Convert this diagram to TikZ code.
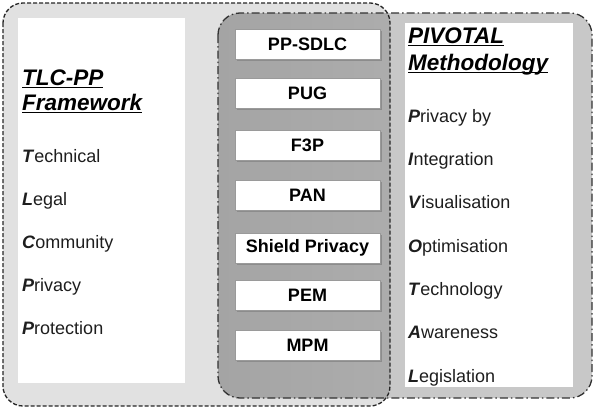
\documentclass[tikz,border=0pt]{standalone}
\usepackage{fontspec}
\setmainfont{Liberation Sans}
\definecolor{lightfill}{HTML}{E1E1E1}
\definecolor{midfill}{HTML}{C8C8C8}
\definecolor{ovlA}{HTML}{A4A4A4}
\definecolor{ovlB}{HTML}{B6B6B6}
\definecolor{txt}{HTML}{1E1E1E}
\definecolor{boxline}{HTML}{9A9A9A}
\definecolor{boxshadow}{HTML}{8C8C8C}
\newcommand\myul[1]{\setbox0\hbox{#1}\rlap{\rule[-3.2pt]{\wd0}{1.6pt}}\box0}
\newcommand\fl[1]{\textbf{\textit{#1}}}
\begin{document}
\begin{tikzpicture}[x=1pt,y=-1pt,
  panel/.style={fill=white, draw=none, inner sep=0pt, outer sep=0pt},
  item/.style={draw=boxline, line width=0.8pt, fill=white, minimum width=145, minimum height=30, inner sep=0pt, font=\fontsize{18}{20}\selectfont\bfseries, text=black},
  shadowbox/.style={fill=boxshadow, draw=none, minimum width=145, minimum height=30, inner sep=0pt},
  listtxt/.style={anchor=base west, inner sep=0pt, font=\fontsize{18}{20}\selectfont, text=txt},
  titletxt/.style={anchor=base west, inner sep=0pt, font=\fontsize{22.5}{25}\selectfont\bfseries\itshape, text=black},
  dashborder/.style={draw=black!85, line width=1.3pt, dash pattern=on 4pt off 2pt},
  dotborder/.style={draw=black!80, line width=1.3pt, dash pattern=on 8pt off 3pt on 1.5pt off 3pt}
]
\useasboundingbox (0,0) rectangle (595,407);
% fills
\fill[lightfill, rounded corners=20] (3,3) rectangle (390,406);
\fill[midfill, rounded corners=22] (218,13) rectangle (592,398);
\begin{scope}
  \clip[rounded corners=20] (3,3) rectangle (390,406);
  \shade[left color=ovlA, right color=ovlB, rounded corners=22] (218,13) rectangle (592,398);
\end{scope}
% borders
\draw[dashborder, rounded corners=20] (3,3) rectangle (390,406);
\draw[dotborder, rounded corners=22] (218,13) rectangle (592,398);
% white panels
\node[panel, minimum width=167, minimum height=365] (lpanel) at (101.5,200.5) {};
\node[panel, minimum width=168, minimum height=364] (rpanel) at (489,205) {};
% left texts
\node[titletxt] (t1) at (22,85) {\myul{TLC-PP}};
\node[titletxt] (t2) at (22,110) {\myul{Framework}};
\node[listtxt] (l1) at (22,162) {\fl{T}echnical};
\node[listtxt] (l2) at (22,205) {\fl{L}egal};
\node[listtxt] (l3) at (22,248) {\fl{C}ommunity};
\node[listtxt] (l4) at (22,291) {\fl{P}rivacy};
\node[listtxt] (l5) at (22,334) {\fl{P}rotection};
% right texts
\node[titletxt] (r1) at (408,43) {\myul{PIVOTAL}};
\node[titletxt] (r2) at (408,70) {\myul{Methodology}};
\node[listtxt] (p1) at (408,122) {\fl{P}rivacy by};
\node[listtxt] (p2) at (408,165) {\fl{I}ntegration};
\node[listtxt] (p3) at (408,208) {\fl{V}isualisation};
\node[listtxt] (p4) at (408,252) {\fl{O}ptimisation};
\node[listtxt] (p5) at (408,295) {\fl{T}echnology};
\node[listtxt] (p6) at (408,338) {\fl{A}wareness};
\node[listtxt] (p7) at (408,382) {\fl{L}egislation};
% middle items
\foreach \y/\lab/\nm in {44/PP-SDLC/m1, 93/PUG/m2, 145/F3P/m3, 195/PAN/m4, 248/Shield Privacy/m5, 295/PEM/m6, 345/MPM/m7}{
  \node[shadowbox] (\nm s) at (309,\y+1.5) {};
  \node[item] (\nm) at (307.5,\y) {\lab};
}
\end{tikzpicture}
\end{document}
